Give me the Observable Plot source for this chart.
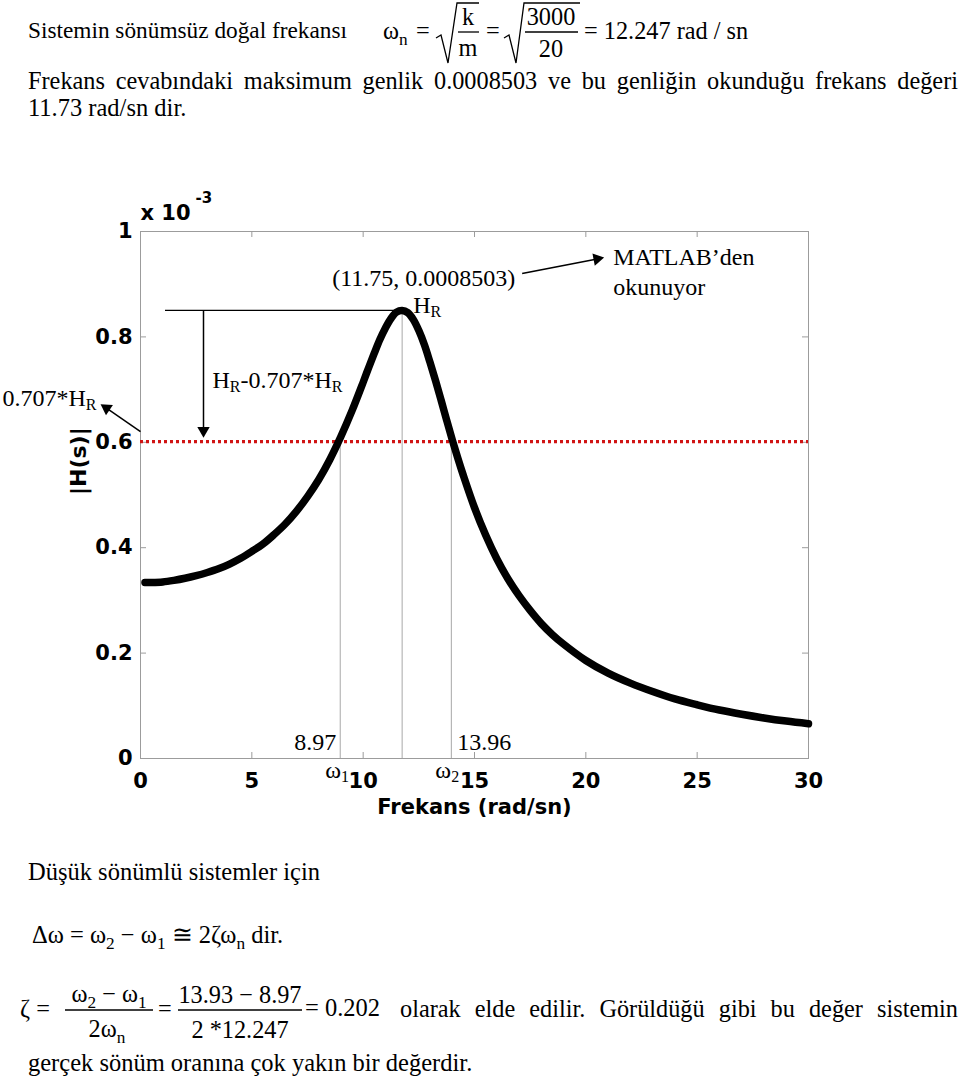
<!DOCTYPE html>
<html><head><meta charset="utf-8">
<script src="https://cdn.jsdelivr.net/npm/d3@7"></script>
<script src="https://cdn.jsdelivr.net/npm/@observablehq/plot@0.6"></script>
<style>
html,body{margin:0;padding:0;background:#fff;}
#page{position:relative;width:960px;height:1079px;overflow:hidden;color:#000;}
.t{position:absolute;white-space:nowrap;line-height:1;font-family:"Liberation Serif",serif;}
.sub{position:relative;top:6px;font-size:17.3px;}
</style></head><body><div id="page"></div>
<script>
// ---- data (|H| in units of 1e-3) ----
const freq = [0.2,0.5,1,1.5,2,2.5,3,3.5,4,4.5,5,5.5,6,6.5,7,7.5,8,8.5,9,9.5,10,10.25,10.5,10.75,11,11.25,11.5,11.75,12,12.25,12.5,12.75,13,13.25,13.5,13.75,14,14.25,14.5,15,15.5,16,16.5,17,17.5,18,18.5,19,20,21,22,23,24,25,26,27,28,29,30];
const amp = [0.334,0.334,0.335,0.338,0.342,0.347,0.353,0.360,0.369,0.380,0.393,0.407,0.425,0.445,0.469,0.497,0.529,0.567,0.611,0.660,0.714,0.742,0.769,0.795,0.817,0.835,0.847,0.850,0.846,0.833,0.812,0.785,0.752,0.717,0.680,0.642,0.605,0.570,0.537,0.476,0.424,0.379,0.341,0.309,0.281,0.256,0.235,0.217,0.186,0.162,0.143,0.127,0.113,0.102,0.092,0.084,0.077,0.071,0.066];
const xTicks = [0,5,10,15,20,25,30];
const yTicks = [0,0.2,0.4,0.6,0.8,1];
const yTickLabels = ["0","0.2","0.4","0.6","0.8","1"];
const peakX = 11.75, peakH = 0.8503;
const halfPower = 0.6012;
const w1 = 8.97, w2 = 13.96;

// ---- layout ----
const W = 960, H = 700, ML = 140, MR = 152, MT = 71, MB = 102;
const plotW = W - ML - MR, plotH = H - MT - MB;
const pxX = plotW / 30, pxY = plotH / 1;   // pixels per data unit
const SERIF = '"Liberation Serif",serif';
const SANS = '"DejaVu Sans",sans-serif';

const page = document.getElementById("page");
const ctx = document.createElement("canvas").getContext("2d");
function measure(t, size) { ctx.font = `${size}px "Liberation Serif"`; return ctx.measureText(t).width; }

// rich text (with subscripts) inside the plot, anchored on a data point with pixel offsets
function rich(x, y, segs, dx0, dy0) {
  let dx = dx0; const marks = [];
  for (const s of segs) {
    const size = s.sub ? 16 : 24;
    marks.push(Plot.text([s.t], {x, y, text: d => d, dx, dy: dy0 + (s.sub ? 6 : 0), textAnchor: "start", lineAnchor: "middle",
      fontSize: size, fontFamily: SERIF, fontWeight: "normal"}));
    dx += measure(s.t, size);
  }
  return marks;
}

const arrows = [
  {x1: peakX + 120 / pxX, y1: peakH + 37 / pxY, x2: peakX + 195 / pxX, y2: peakH + 51.5 / pxY, rot: 79},
  {x1: 0, y1: halfPower + 10 / pxY, x2: -34 / pxX, y2: halfPower + 33.5 / pxY, rot: -56}
];
const downArrow = [{x1: 0, y1: peakH, x2: 0, y2: halfPower + 11 / pxY, rot: 180}];

const chart = Plot.plot({
  width: W, height: H,
  marginLeft: ML, marginRight: MR, marginTop: MT, marginBottom: MB,
  x: {domain: [0, 30]},
  y: {domain: [0, 1]},
  style: {fontFamily: SANS, fontWeight: "bold", fontSize: "21px", background: "transparent", overflow: "visible"},
  marks: [
    Plot.frame({stroke: "#9c9c9c", strokeWidth: 1}),
    Plot.ruleX(xTicks.slice(1, -1), {y1: 0, y2: 6 / pxY, stroke: "#9c9c9c"}),
    Plot.ruleX(xTicks.slice(1, -1), {y1: 1 - 6 / pxY, y2: 1, stroke: "#9c9c9c"}),
    Plot.ruleY(yTicks.slice(1, -1), {x1: 0, x2: 6 / pxX, stroke: "#9c9c9c"}),
    Plot.ruleY(yTicks.slice(1, -1), {x1: 30 - 6 / pxX, x2: 30, stroke: "#9c9c9c"}),
    Plot.axisX(xTicks, {tickSize: 0, tickPadding: 15, label: null}),
    Plot.axisY(yTicks, {tickSize: 0, tickPadding: 8, label: null, tickFormat: d => yTickLabels[yTicks.indexOf(d)]}),
    Plot.text(["Frekans (rad/sn)"], {frameAnchor: "bottom", dy: 49, lineAnchor: "middle", fontSize: 21}),
    Plot.text(["|H(s)|"], {frameAnchor: "left", dx: -62, rotate: -90, lineAnchor: "middle", fontSize: 22}),
    Plot.text(["x 10"], {frameAnchor: "top-left", textAnchor: "start", lineAnchor: "middle", dy: -18, fontSize: 21}),
    Plot.text(["-3"], {frameAnchor: "top-left", textAnchor: "start", lineAnchor: "middle", dx: 55, dy: -33, fontSize: 15}),
    // guides
    Plot.ruleX([w1, w2], {y1: 0, y2: halfPower, stroke: "#a8a8a8"}),
    Plot.ruleX([peakX], {y1: 0, y2: peakH, stroke: "#a8a8a8"}),
    Plot.ruleY([peakH], {x1: 0, x2: peakX, insetLeft: 25, stroke: "black", strokeWidth: 1.3}),
    Plot.ruleY([halfPower], {stroke: "#d01414", strokeWidth: 3.2, strokeDasharray: "3 3"}),
    // response curve
    Plot.line(freq, {x: freq, y: amp, stroke: "black", strokeWidth: 7.5, curve: "catmull-rom"}),
    // arrows
    Plot.link(arrows, {x1: "x1", y1: "y1", x2: "x2", y2: "y2", stroke: "black", strokeWidth: 1.5}),
    Plot.dot(arrows, {x: "x2", y: "y2", symbol: "triangle", r: 4.6, fill: "black", stroke: "none", rotate: "rot"}),
    Plot.link(downArrow, {x1: "x1", y1: "y1", x2: "x2", y2: "y2", dx: 63, stroke: "black", strokeWidth: 1.5}),
    Plot.dot(downArrow, {x: "x2", y: "y2", dx: 63, symbol: "triangle", r: 4.6, fill: "black", stroke: "none", rotate: "rot"}),
    // annotations
    Plot.text(["(11.75, 0.0008503)"], {x: peakX, y: peakH, dx: -70, dy: -32, textAnchor: "start", lineAnchor: "middle", fontSize: 24, fontFamily: SERIF, fontWeight: "normal"}),
    Plot.text(["MATLAB\u2019den\nokunuyor"], {x: peakX, y: peakH, dx: 211, dy: -40, textAnchor: "start", lineAnchor: "middle", lineHeight: 1.25, fontSize: 24, fontFamily: SERIF, fontWeight: "normal"}),
    ...rich(peakX, peakH, [{t: "H"}, {t: "R", sub: true}], 11, -5),
    ...rich(0, peakH, [{t: "H"}, {t: "R", sub: true}, {t: "-0.707*H"}, {t: "R", sub: true}], 72, 70),
    ...rich(0, halfPower, [{t: "0.707*H"}, {t: "R", sub: true}], -138, -43),
    Plot.text([w1], {x: d => d, y: 0, text: d => String(d), dx: -4, dy: -16, textAnchor: "end", lineAnchor: "middle", fontSize: 24, fontFamily: SERIF, fontWeight: "normal"}),
    Plot.text([w2], {x: d => d, y: 0, text: d => String(d), dx: 6, dy: -16, textAnchor: "start", lineAnchor: "middle", fontSize: 24, fontFamily: SERIF, fontWeight: "normal"}),
    ...rich(w1, 0, [{t: "\u03c9"}, {t: "1", sub: true}], -15, 12),
    ...rich(w2, 0, [{t: "\u03c9"}, {t: "2", sub: true}], -16, 12)
  ]
});
chart.style.position = "absolute";
chart.style.left = "0px";
chart.style.top = "160px";
page.appendChild(chart);

// ---- text above and below the chart ----
function T(x, base, html, size, style) {
  const d = document.createElement("div");
  d.className = "t";
  d.style.cssText = `left:${x}px;top:${base - 0.8375 * size}px;font-size:${size}px;` + (style || "");
  d.style.fontFamily = SERIF;
  d.innerHTML = html;
  page.appendChild(d);
  return d;
}
function TC(cx, base, html, size) { return T(cx - 100, base, html, size, "width:200px;text-align:center;"); }
const sub = s => `<span class="sub">${s}</span>`;

const ov = d3.select(page).append("svg").attr("width", 960).attr("height", 1079)
  .style("position", "absolute").style("left", "0").style("top", "0").style("pointer-events", "none");
function poly(pts) { ov.append("polyline").attr("points", pts.map(p => p.join(",")).join(" ")).attr("fill", "none").attr("stroke", "black").attr("stroke-width", 1.3); }

T(28, 39, "Sistemin sönümsüz doğal frekansı", 23.3);
T(383, 39, "ω" + sub("n"), 24.3);
T(416, 39, "=", 24.3);
poly([[436, 38], [441, 35], [448, 63], [457, 3], [479, 3]]);
TC(468, 25, "k", 24.3); poly([[458, 32], [479, 32]]); TC(468, 56, "m", 24.3);
T(486, 39, "=", 24.3);
poly([[504, 38], [509, 35], [516, 63], [524, 3], [580, 3]]);
TC(551, 25, "3000", 24.3); poly([[525, 32], [578, 32]]); TC(551, 57, "20", 24.3);
T(584, 39, "= 12.247 rad / sn", 24.3);
T(28, 89, "Frekans cevabındaki maksimum genlik 0.0008503 ve bu genliğin okunduğu frekans değeri", 24.3, "width:930px;text-align:justify;text-align-last:justify;");
T(28, 117, "11.73 rad/sn dir.", 24.5);

T(28, 881, "Düşük sönümlü sistemler için", 24.5);
T(32, 944, "Δω = ω" + sub("2") + " − ω" + sub("1") + " ≅ 2ζω" + sub("n") + " dir.", 24.5);
T(20, 1017, "ζ =", 24.3);
TC(109, 1002, "ω" + sub("2") + " − ω" + sub("1"), 24.3); poly([[65, 1010], [153, 1010]]); TC(107, 1037, "2ω" + sub("n"), 24.3);
T(158, 1017, "=", 24.3);
TC(240, 1003, "13.93 − 8.97", 24.3); poly([[178, 1010], [302, 1010]]); TC(240, 1038, "2 *12.247", 24.3);
T(305, 1017, "= 0.202", 24.5);
T(400, 1017, "olarak elde edilir. Görüldüğü gibi bu değer sistemin", 24.3, "width:558px;text-align:justify;text-align-last:justify;");
T(28, 1072, "gerçek sönüm oranına çok yakın bir değerdir.", 24.5);
</script></body></html>
